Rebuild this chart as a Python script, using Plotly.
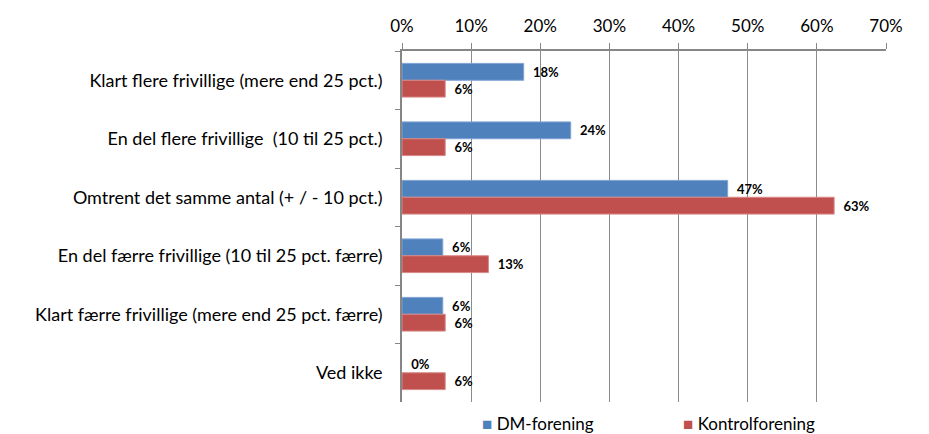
import math
import plotly.graph_objects as go

categories = [
    "Klart flere frivillige (mere end 25 pct.)",
    "En del flere frivillige  (10 til 25 pct.)",
    "Omtrent det samme antal (+ / - 10 pct.)",
    "En del færre frivillige (10 til 25 pct. færre)",
    "Klart færre frivillige (mere end 25 pct. færre)",
    "Ved ikke",
]
dm_values = [17.6, 24.4, 47.1, 5.9, 5.9, 0.0]
kontrol_values = [6.25, 6.25, 62.5, 12.5, 6.25, 6.25]
series_names = ["DM-forening", "Kontrolforening"]
x_ticks = [0, 10, 20, 30, 40, 50, 60, 70]

BLUE = "#4F81BD"
RED = "#C0504D"
FONT = "Lato"


def labels(vals):
    return ["&nbsp;&nbsp;" + str(int(math.floor(v + 0.5))) + "%" for v in vals]


fig = go.Figure()
for name, vals, col, edge in [
    (series_names[0], dm_values, BLUE, "#7FA3D3"),
    (series_names[1], kontrol_values, RED, "#D98886"),
]:
    fig.add_trace(go.Bar(
        y=categories, x=vals, name=name, orientation="h",
        marker=dict(color=col, line=dict(color=edge, width=[1 if v > 0 else 0 for v in vals])),
        text=labels(vals), textposition="outside", cliponaxis=False,
        textfont=dict(family=FONT, size=13, color="#000000", weight="bold"),
        showlegend=False,
    ))

fig.update_layout(
    width=929, height=434,
    margin=dict(l=402, r=43, t=51, b=32),
    paper_bgcolor="white", plot_bgcolor="white",
    barmode="group", bargap=0.424, bargroupgap=0,
    font=dict(family=FONT, size=18, color="#000000"),
    xaxis=dict(
        side="top", range=[0, 70], tickvals=x_ticks,
        ticktext=[f"{t}%" for t in x_ticks],
        showgrid=True, gridcolor="#8C8C8C", gridwidth=1,
        showline=True, linecolor="#868686", linewidth=1.5,
        ticks="outside", ticklen=6, tickcolor="#868686",
        tickfont=dict(family=FONT, size=17, color="#000000"),
        ticklabelstandoff=4,
        zeroline=False, fixedrange=True,
    ),
    yaxis=dict(
        autorange="reversed", showline=True, linecolor="#868686", linewidth=1.5,
        ticks="outside", ticklen=5, tickcolor="#868686", tickson="boundaries",
        tickfont=dict(family=FONT, size=18, color="#000000"),
        ticklabelstandoff=14, showgrid=False, fixedrange=True,
    ),
)

legend_x = [480, 681]
for nm, col, lx in zip(series_names, [BLUE, RED], legend_x):
    fig.add_annotation(
        xref="paper", yref="paper",
        x=(lx - 402) / (929 - 402 - 43), y=-(423 - 402) / (434 - 51 - 32),
        xanchor="left", yanchor="middle", showarrow=False,
        text=f"<span style='color:{col}'>■</span> {nm}",
        font=dict(family=FONT, size=17, color="#000000"),
    )

fig.write_html(
    "out.html",
    config={"displayModeBar": False},
    post_script="document.body.style.margin='0';document.body.style.overflow='hidden';",
)
